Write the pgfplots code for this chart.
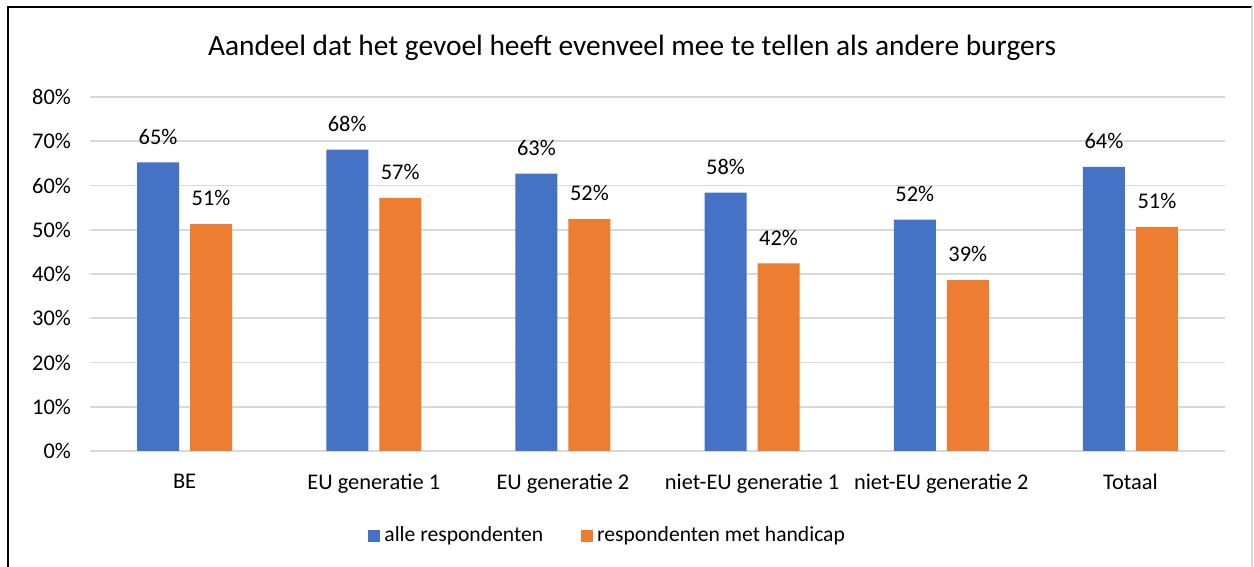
\documentclass[border=0pt]{standalone}
\usepackage{pgfplots}
\pgfplotsset{compat=1.18}
\usepackage{fontspec}
\setmainfont{Carlito}
\definecolor{cblue}{HTML}{4472C4}
\definecolor{corange}{HTML}{ED7D31}
\definecolor{cgrid}{HTML}{D9D9D9}
\begin{document}
\begin{tikzpicture}
\path[use as bounding box] (0,0) rectangle (627pt,283.5pt);
\draw[black,line width=1pt] (4pt,0) -- (4pt,280pt) -- (626pt,280pt);
\draw[cgrid,line width=0.8pt] (626pt,280pt) -- (626pt,0);
\node[font=\fontsize{14.7}{17}\selectfont] at (316pt,259.5pt) {Aandeel dat het gevoel heeft evenveel mee te tellen als andere burgers};
\begin{axis}[
  at={(45pt,58pt)}, anchor=south west,
  scale only axis, width=567.5pt, height=177pt,
  ybar=5.5pt, bar width=21pt,
  xmin=-0.5, xmax=5.5, ymin=0, ymax=80,
  ytick={0,10,...,80},
  yticklabel={\pgfmathprintnumber{\tick}\%},
  xtick=data,
  xticklabels={BE,EU generatie 1,EU generatie 2,niet-EU generatie 1,niet-EU generatie 2,Totaal},
  /pgf/number format/assume math mode=true,
  tick label style={font=\fontsize{11.2}{13}\selectfont},
  axis x line*=bottom, axis y line*=left,
  x axis line style={cgrid,line width=0.8pt},
  y axis line style={draw=none},
  ymajorgrids, grid style={cgrid,line width=0.8pt},
  major tick length=0pt,
  xticklabel style={yshift=-8pt},
  yticklabel style={xshift=-6pt},
  nodes near coords={\pgfmathprintnumber[fixed,precision=0]{\pgfplotspointmeta}\%},
  nodes near coords style={font=\fontsize{11.2}{13}\selectfont, black, yshift=5.5pt},
  legend style={at={(0.457,-0.24)}, anchor=center, draw=none, legend columns=2,
    font=\fontsize{10.8}{13}\selectfont, /tikz/every even column/.append style={column sep=17pt}},
  legend image code/.code={\fill[#1] (0pt,-3pt) rectangle (6pt,3pt);},
]
\addplot[fill=cblue, draw=none] coordinates {(0,65.2) (1,68.1) (2,62.7) (3,58.4) (4,52.3) (5,64.2)};
\addplot[fill=corange, draw=none] coordinates {(0,51.3) (1,57.2) (2,52.4) (3,42.4) (4,38.6) (5,50.6)};
\legend{alle respondenten, respondenten met handicap}
\end{axis}
\end{tikzpicture}
\end{document}
